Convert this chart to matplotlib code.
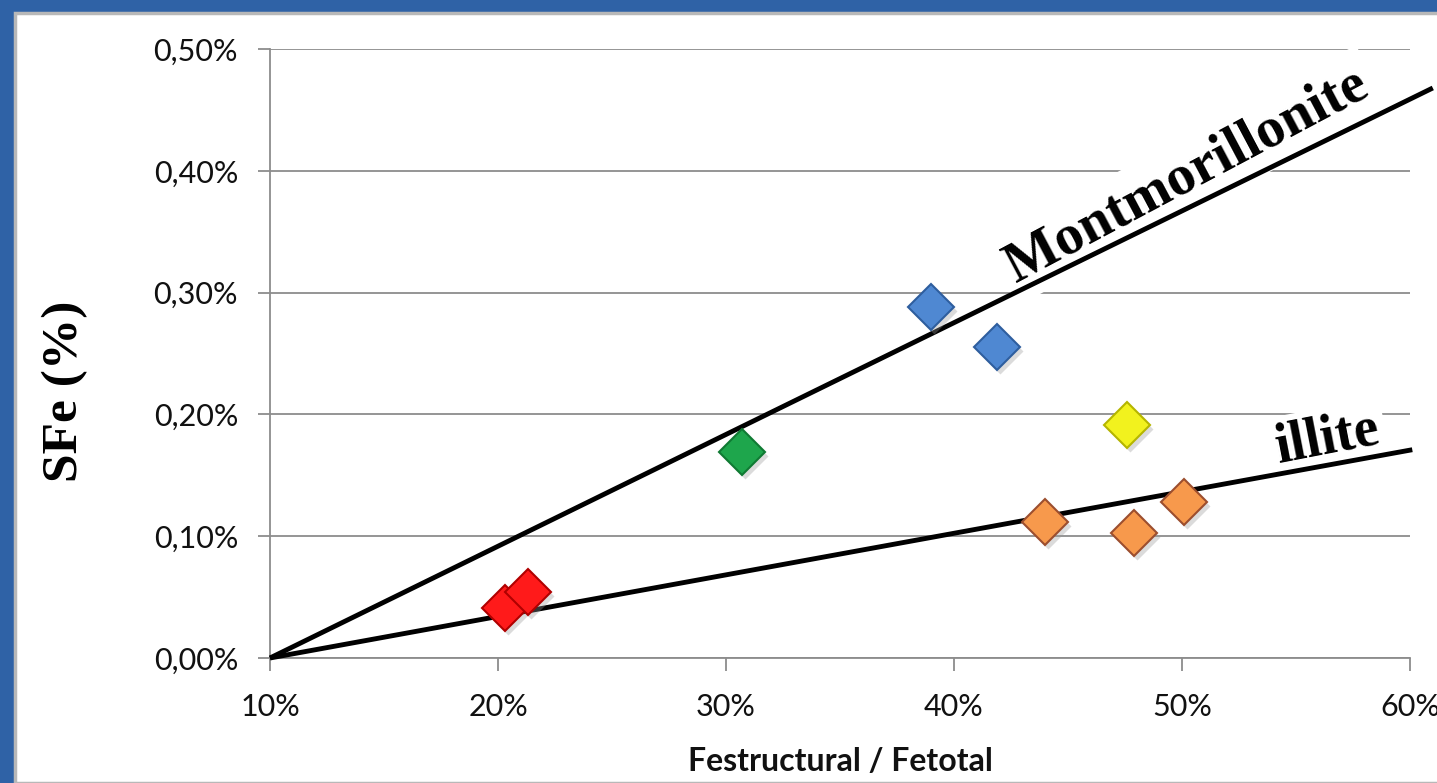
import matplotlib

matplotlib.use("Agg")
import matplotlib.pyplot as plt
from matplotlib import transforms
from matplotlib.patches import Rectangle
from matplotlib.ticker import FuncFormatter, MultipleLocator

# --- data (x: Festructural/Fetotal in %, y: SFe in %) ---
red_x = [20.3, 21.3]
red_y = [0.041, 0.054]
green_x = [30.7]
green_y = [0.169]
blue_x = [39.0, 41.9]
blue_y = [0.288, 0.255]
yellow_x = [47.6]
yellow_y = [0.191]
orange_x = [44.0, 47.9, 50.1]
orange_y = [0.112, 0.103, 0.128]

montmo_x = [10, 61.0]
montmo_y = [0, 0.468]
illite_x = [10, 60.1]
illite_y = [0, 0.171]

x_ticks = [10, 20, 30, 40, 50, 60]

W, H = 1437, 783
fig = plt.figure(figsize=(W / 100, H / 100), dpi=100)
fig.patch.set_facecolor("#2F62A6")

# white panel with thin grey rim, kept behind the axes
fig.patches.append(
    Rectangle((15 / W, 0), 1, 1 - 13 / H, transform=fig.transFigure,
              facecolor="white", edgecolor="#B8B8B8", linewidth=2.5,
              zorder=-10)
)

ax = fig.add_axes([270 / W, (H - 658) / H, 1140 / W, 609 / H])
ax.set_facecolor("none")
ax.set_zorder(1)

grey = "#8C8C8C"
ax.set_xlim(10, 60)
ax.set_ylim(0, 0.5)
ax.set_xticks(x_ticks)
ax.yaxis.set_major_locator(MultipleLocator(0.1))
ax.xaxis.set_major_formatter(FuncFormatter(lambda v, p: f"{v:.0f}%"))
ax.yaxis.set_major_formatter(
    FuncFormatter(lambda v, p: f"{v:.2f}%".replace(".", ","))
)
ax.grid(True, axis="y", color=grey, linewidth=1.3, zorder=1)
ax.set_axisbelow(True)
for s in ["top", "right"]:
    ax.spines[s].set_visible(False)
for s in ["left", "bottom"]:
    ax.spines[s].set_color(grey)
    ax.spines[s].set_linewidth(1.3)
ax.tick_params(axis="both", colors=grey, width=1.3, length=9,
               labelcolor="#111111", labelsize=22)
ax.tick_params(axis="y", pad=14)
ax.tick_params(axis="x", pad=16)
for lab in ax.get_xticklabels() + ax.get_yticklabels():
    lab.set_family("Lato")

# trend lines
ax.plot(montmo_x, montmo_y, color="black", linewidth=3.5, clip_on=False,
        zorder=6, solid_capstyle="butt")
ax.plot(illite_x, illite_y, color="black", linewidth=3.5, clip_on=False,
        zorder=6, solid_capstyle="butt")

# points, each with a soft drop shadow
shadow = transforms.offset_copy(ax.transData, fig=fig, x=3, y=-4,
                                units="dots")
groups = [
    (red_x, red_y, "#FF1A1A", "#B00000"),
    (green_x, green_y, "#1EA64C", "#0F7A33"),
    (blue_x, blue_y, "#4F88D2", "#2E5E9E"),
    (yellow_x, yellow_y, "#F2F21E", "#B5B500"),
    (orange_x, orange_y, "#F7994C", "#9C4E2E"),
]
for gx, gy, fc, ec in groups:
    ax.plot(gx, gy, linestyle="none", marker="D", markersize=23,
            markerfacecolor="#9A9A9A", markeredgecolor="none", alpha=0.35,
            transform=shadow, zorder=6.5, clip_on=False)
    ax.plot(gx, gy, linestyle="none", marker="D", markersize=23,
            markerfacecolor=fc, markeredgecolor=ec, markeredgewidth=1.5,
            zorder=7, clip_on=False)

# labels on the lines
ax.text(50.2, 0.396, "Montmorillonite", rotation=28, ha="center",
        va="center", fontsize=41, fontweight="bold", family="Liberation Serif",
        color="black", zorder=5,
        bbox=dict(facecolor="white", edgecolor="none", pad=7))
ax.text(56.4, 0.180, "illite", rotation=11, ha="center", va="center",
        fontsize=40, fontweight="bold", family="Liberation Serif",
        color="black", zorder=5,
        bbox=dict(facecolor="white", edgecolor="none", pad=4))

ax.set_xlabel("Festructural / Fetotal", fontsize=23, fontweight="bold",
              family="Lato", color="#111111", labelpad=19)
fig.text(65 / W, 1 - 391 / H, "SFe (%)", rotation=90, ha="center",
         va="center", fontsize=37, fontweight="bold",
         family="Liberation Serif", color="black")

fig.savefig("out.png", dpi=100, facecolor=fig.get_facecolor())
